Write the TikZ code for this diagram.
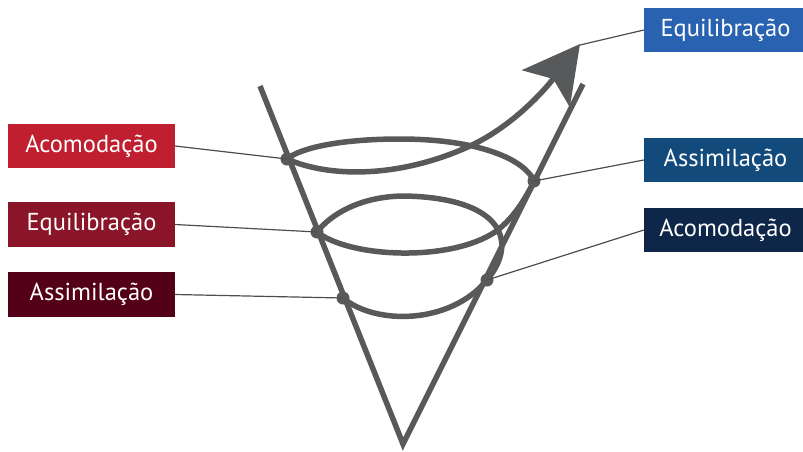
\documentclass[tikz,border=0pt]{standalone}
\usepackage{fontspec}
\setmainfont{PT Sans}
\usetikzlibrary{arrows.meta}
\definecolor{conegray}{HTML}{58595B}
\definecolor{leadgray}{HTML}{4D4D4F}
\definecolor{redA}{HTML}{C01F30}
\definecolor{redB}{HTML}{8A1528}
\definecolor{redC}{HTML}{540019}
\definecolor{blueA}{HTML}{2862B0}
\definecolor{blueB}{HTML}{134A7C}
\definecolor{blueC}{HTML}{0E2648}
\tikzset{
  labelbox/.style={minimum width=167pt, minimum height=44.5pt, inner sep=0pt,
    text=white, font=\fontsize{24.5}{27}\selectfont},
  thick gray/.style={draw=conegray, line width=5.5pt},
  leader/.style={draw=leadgray, line width=1.2pt},
  spot/.style={circle, fill=conegray, minimum size=13pt, inner sep=0pt},
}
\begin{document}
\begin{tikzpicture}[x=1pt,y=-1pt]
\useasboundingbox (0,0) rectangle (803,451);
% cone
\draw[thick gray, line join=miter] (260,86) -- (403,444) -- (583,84);
% spiral
\draw[thick gray, -{Stealth[length=56pt,width=60pt,inset=12pt]}]
  (343,298) .. controls (375,325) and (450,325) .. (487,280)
  .. controls (520,240) and (500,198) .. (405,196)
  .. controls (360,196) and (330,215) .. (317,232)
  .. controls (350,258) and (450,262) .. (495,232)
  .. controls (512,220) and (525,200) .. (534,181)
  .. controls (525,160) and (480,139) .. (400,139)
  .. controls (340,139) and (300,148) .. (287,159)
  .. controls (330,178) and (400,178) .. (470,146)
  .. controls (515,125) and (547,87) .. (580,44);
\coordinate (tip) at (580,45);
% dots
\node[spot] (d1) at (287,159) {};
\node[spot] (d2) at (534,181) {};
\node[spot] (d3) at (317,232) {};
\node[spot] (d4) at (487,280) {};
\node[spot] (d5) at (343,298) {};
% boxes
\node[labelbox, fill=redA] (l1) at (91.5,146) {Acomodação};
\node[labelbox, fill=redB] (l2) at (91.5,224.5) {Equilibração};
\node[labelbox, fill=redC] (l3) at (91.5,294.5) {Assimilação};
\node[labelbox, fill=blueA, minimum width=163pt] (r1) at (725.5,30) {Equilibração};
\node[labelbox, fill=blueB, minimum width=163pt] (r2) at (725.5,160) {Assimilação};
\node[labelbox, fill=blueC, minimum width=163pt] (r3) at (725.5,230) {Acomodação};
% leaders
\draw[leader] (l1.east) -- (d1.center);
\draw[leader] (l2.east) -- (d3.center);
\draw[leader] (l3.east) -- (d5.center);
\draw[leader] (r1.west) -- (tip);
\draw[leader] (r2.west) -- (d2.center);
\draw[leader] (r3.west) -- (d4.center);
\end{tikzpicture}
\end{document}
